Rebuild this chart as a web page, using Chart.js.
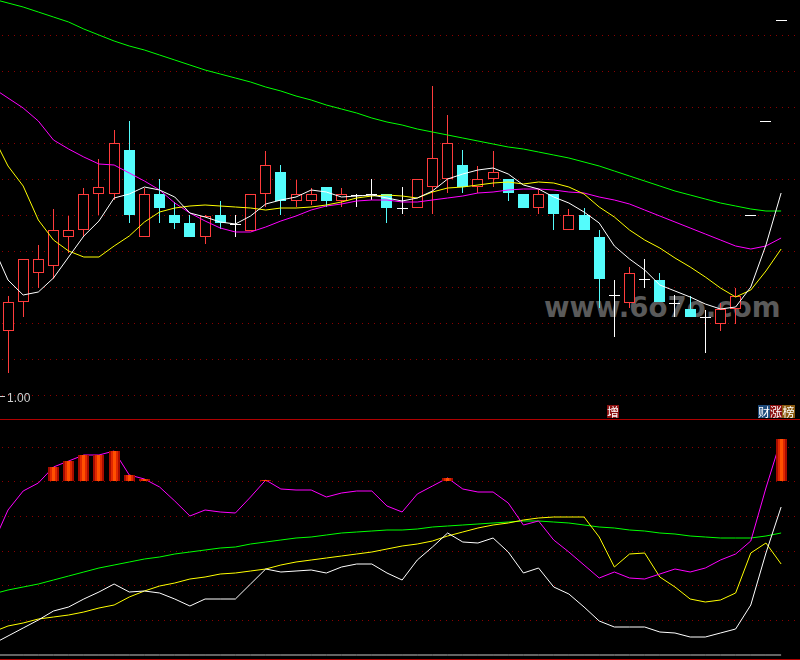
<!DOCTYPE html>
<html>
<head>
<meta charset="utf-8">
<script src="https://cdn.jsdelivr.net/npm/chart.js@4.4.0/dist/chart.umd.min.js"></script>
<style>
  html, body { margin: 0; padding: 0; background: #000; }
  body { width: 800px; height: 660px; position: relative; overflow: hidden; }
  #mark { position: absolute; left: 544px; top: 294px; color: #5a5a5a; font: bold 28px "DejaVu Sans"; line-height: 28px; white-space: nowrap; transform-origin: 0 0; }
  #priceChart { position: absolute; left: 0; top: 0; }
  #indChart { position: absolute; left: 0; top: 420px; }
  .sep { position: absolute; left: 0; width: 800px; height: 1px; background: #b00000; }
  .tag { position: absolute; top: 405px; width: 12px; height: 13px; line-height: 13px; color: #fff; font-size: 12px; font-family: "Noto Sans CJK SC"; text-align: center; }
</style>
</head>
<body>
<div id="mark">www.6o7o.com</div>
<canvas id="priceChart" width="800" height="419"></canvas>
<div class="sep" style="top:419px"></div>
<canvas id="indChart" width="800" height="240"></canvas>
<div class="sep" style="top:659px"></div>
<div class="tag" style="left:607px;background:#8b1010">增</div>
<div class="tag" style="left:758px;background:#1e4a7a">财</div>
<div class="tag" style="left:770px;background:#8b1010">涨</div>
<div class="tag" style="left:782px;width:13px;background:#8b5a10">榜</div>
<script>
// daily candles, index 0..51 (last three are one-price limit-up days)
const open = [1.64,1.93,2.22,2.29,2.58,2.65,3.01,3.01,3.45,2.58, 3.01,2.80,2.72,2.58,2.80,2.71,2.64,3.01,3.23,2.94,
              2.94,3.08,2.94,3.00,3.01,3.01,2.87,2.87,3.08,3.16, 3.30,3.08,3.16,3.16,3.01,2.87,3.01,2.65,2.80,2.58,
              2.00,1.92,2.16,2.15,1.92,1.86,1.78,1.71,1.86,2.80, 3.74,4.75];
const high = [1.99,2.36,2.50,2.86,2.79,3.07,3.36,3.65,3.74,3.07, 3.16,2.93,2.80,2.80,2.94,2.80,3.01,3.44,3.30,3.15,
              3.07,3.08,3.07,3.01,3.16,3.01,3.08,3.16,4.09,3.80, 3.45,3.29,3.44,3.16,3.01,3.06,3.01,2.86,2.87,2.65,
              2.15,2.28,2.36,2.22,2.00,1.99,1.85,1.92,2.07,2.80, 3.74,4.75];
const low = [1.22,1.78,2.07,2.16,2.42,2.58,2.80,2.95,2.72,2.58, 2.72,2.66,2.58,2.51,2.66,2.58,2.64,2.88,2.80,2.88,
             2.90,2.88,2.88,2.88,2.95,2.72,2.81,2.87,2.81,3.02, 3.02,3.02,3.08,2.94,2.87,2.81,2.65,2.65,2.65,1.87,
             1.58,1.87,2.07,1.93,1.78,1.78,1.42,1.64,1.71,2.80, 3.74,4.75];
const close = [1.93,2.36,2.36,2.65,2.65,3.01,3.08,3.52,2.80,3.01, 2.87,2.72,2.58,2.79,2.72,2.71,3.01,3.30,2.94,3.01,
               3.01,2.94,3.01,3.00,3.01,2.87,2.87,3.16,3.37,3.52, 3.08,3.16,3.23,3.02,2.87,3.01,2.81,2.80,2.65,2.16,
               2.00,2.22,2.16,1.93,1.92,1.78,1.78,1.86,1.99,2.80, 3.74,4.75];

// moving averages, index -1..51 (first value is the day before the window)
const ma5 = [2.49, 2.15,2.00,2.03,2.17,2.38,2.59,2.74,2.97,3.01,3.08, 3.05,2.98,2.82,2.78,2.73,2.71,2.79,2.91,2.95,2.98,
             3.05,3.03,2.98,2.99,3.00,2.97,2.94,2.97,3.04,3.16, 3.21,3.25,3.27,3.21,3.10,3.06,2.98,2.92,2.83,2.72,
             2.49,2.36,2.25,2.10,2.04,1.98,1.91,1.86,1.88,2.08, 2.50,3.02];
const ma10 = [3.59, 3.29,3.09,2.75,2.55,2.44,2.38,2.38,2.49,2.59,2.73, 2.83,2.87,2.89,2.90,2.89,2.88,2.87,2.85,2.87,2.87,
              2.88,2.90,2.93,2.97,2.99,3.00,2.99,2.97,3.03,3.07, 3.08,3.10,3.12,3.13,3.11,3.13,3.12,3.08,3.01,2.88,
              2.78,2.65,2.55,2.47,2.37,2.28,2.18,2.07,1.98,2.05, 2.24,2.46];
const ma20 = [4.07, 3.97,3.87,3.74,3.55,3.46,3.38,3.31,3.30,3.22,3.14, 3.05,2.92,2.82,2.74,2.67,2.63,2.63,2.68,2.74,2.79,
              2.85,2.89,2.91,2.94,2.95,2.95,2.93,2.93,2.95,2.97, 2.99,3.02,3.03,3.05,3.06,3.06,3.05,3.03,3.02,2.98,
              2.95,2.91,2.85,2.79,2.73,2.67,2.61,2.55,2.49,2.46, 2.49,2.57];
const ma60 = [4.96, 4.92,4.88,4.83,4.78,4.73,4.66,4.60,4.54,4.49,4.45, 4.40,4.35,4.30,4.25,4.21,4.17,4.13,4.08,4.04,3.99,
              3.95,3.90,3.86,3.82,3.77,3.73,3.70,3.66,3.63,3.60, 3.57,3.54,3.51,3.48,3.46,3.43,3.40,3.37,3.33,3.29,
              3.24,3.19,3.14,3.09,3.04,3.00,2.96,2.92,2.89,2.86, 2.84,2.84];

// indicator panel, index -1..51
const strength = [116, 150,169,177,193,199,205,205,209,185,181, 173,159,144,150,148,147,163,180,171,170,
                  170,163,167,169,169,154,148,166,174,182, 171,168,168,157,135,139,120,108,95,82,
                  88,82,81,86,91,88,92,100,106,119, 172,221];
const fast = [16, 24,32,40,49,53,61,68,76,68,69, 67,61,54,61,61,61,76,91,88,89,
              90,87,93,96,96,87,80,100,113,127, 118,117,122,108,87,92,73,66,53,39,
              33,33,33,28,27,23,23,27,31,55, 107,153];
const slow = [28, 34,37,41,43,45,48,52,55,63,69, 74,77,81,83,86,87,89,91,95,98,
              100,102,104,106,108,111,114,116,119,124, 128,132,135,137,140,142,143,143,143,123,
              93,106,107,83,73,61,58,60,67,107, 117,96];
const trend = [66, 70,73,76,80,84,88,92,95,98,101, 103,106,108,110,112,113,116,118,120,122,
               123,125,127,128,129,130,130,131,133,134, 135,136,137,138,139,139,138,137,135,133,
               132,130,129,127,126,124,123,122,122,122, 124,127];
const baseLevel = 5;
const barFloor = 179;

const priceGrid = [1.00, 1.36, 1.72, 2.08, 2.44, 2.80, 3.16, 3.52, 3.88, 4.24, 4.60];
const indGrid = [40, 75, 109, 144, 179, 213];
const labelValue = 1.00;

const xMin = -0.528, xMax = 52.246;
const days = open.map((_, i) => i);
const lineDays = [-1, ...days];
const pts = arr => arr.map((v, i) => ({x: lineDays[i], y: v}));

const kind = days.map(i => close[i] > open[i] ? 'up' : close[i] < open[i] ? 'down' : 'flat');
const edge = {up: '#ff3c3c', down: '#54fcfc', flat: '#ffffff'};
const fill = {up: '#000000', down: '#54fcfc', flat: '#ffffff'};

const bodies = days.map(i => {
    const lo = Math.min(open[i], close[i]);
    const hi = Math.max(open[i], close[i]);
    return {x: i, y: hi > lo ? [lo, hi] : [lo - 0.01, hi]};
});
const wicks = days.map(i => ({x: i, y: [low[i], high[i]]}));

function lineSet(values, color, order) {
    return {type: 'line', data: pts(values), borderColor: color, borderWidth: 1,
            pointRadius: 0, tension: 0, fill: false, order: order};
}

function gridScale(min, max, values) {
    return {
        min: min, max: max,
        afterBuildTicks: s => { s.ticks = values.map(v => ({value: v})); },
        ticks: {display: false},
        grid: {display: false, drawTicks: false},
        border: {display: false}
    };
}

const baseOptions = (yScale) => ({
    responsive: false,
    animation: false,
    events: [],
    layout: {padding: 0},
    plugins: {legend: {display: false}, tooltip: {enabled: false}},
    scales: {
        x: {type: 'linear', display: false, min: xMin, max: xMax, offset: false},
        y: yScale
    }
});

// dotted dark-red grid lines at the y scale's ticks
const dottedGrid = {
    id: 'dottedGrid',
    beforeDatasetsDraw(chart) {
        const {ctx, chartArea, scales} = chart;
        ctx.save();
        ctx.fillStyle = '#8c0000';
        scales.y.ticks.forEach(t => {
            const y = Math.round(scales.y.getPixelForValue(t.value));
            for (let x = chartArea.left + 2; x < chartArea.right; x += 6) ctx.fillRect(x, y, 1, 1);
        });
        ctx.restore();
    }
};

// snap bar centres to whole pixels so thin wicks stay crisp
const snapBars = {
    id: 'snapBars',
    afterDatasetsUpdate(chart) {
        chart.data.datasets.forEach((ds, i) => {
            const meta = chart.getDatasetMeta(i);
            if (meta.type !== 'bar') return;
            const odd = (ds.barThickness % 2) === 1;
            meta.data.forEach(el => { el.x = odd ? Math.floor(el.x) + 0.5 : Math.round(el.x); });
        });
    }
};

const priceLabel = {
    id: 'priceLabel',
    afterDraw(chart) {
        const y = chart.scales.y.getPixelForValue(labelValue);
        const ctx = chart.ctx;
        ctx.save();
        ctx.fillStyle = '#d0d0d0';
        ctx.fillRect(0, Math.round(y) + 1, 5, 1);
        ctx.font = '12px "Liberation Sans"';
        ctx.textBaseline = 'alphabetic';
        ctx.fillText(labelValue.toFixed(2), 7, y + 7);
        ctx.restore();
    }
};

new Chart(document.getElementById('priceChart'), {
    type: 'bar',
    data: {
        datasets: [
            lineSet(ma5, '#ffffff', 0),
            lineSet(ma10, '#ffff00', 0),
            lineSet(ma20, '#ff00ff', 0),
            lineSet(ma60, '#00ff00', 0),
            {
                data: bodies, order: 1, grouped: false, barThickness: 11, inflateAmount: 0,
                borderSkipped: false,
                backgroundColor: days.map(i => fill[kind[i]]),
                borderColor: days.map(i => edge[kind[i]]),
                borderWidth: days.map(i => kind[i] === 'flat' ? 0 : 1)
            },
            {
                data: wicks, order: 2, grouped: false, barThickness: 1, inflateAmount: 0,
                borderWidth: 0,
                backgroundColor: days.map(i => edge[kind[i]])
            }
        ]
    },
    options: baseOptions(gridScale(0.76, 4.95, priceGrid)),
    plugins: [dottedGrid, snapBars, priceLabel]
});

const strengthNow = strength.slice(1);
const barDays = days.filter(i => strengthNow[i] > barFloor);
const barData = barDays.map(i => ({x: i, y: [barFloor, strengthNow[i]]}));
const barLayer = (width, color, order) => ({
    data: barData, order: order, grouped: false, barThickness: width, inflateAmount: 0,
    borderWidth: 0, backgroundColor: color
});

new Chart(document.getElementById('indChart'), {
    type: 'bar',
    data: {
        datasets: [
            barLayer(3, '#ff5000', 0),
            barLayer(7, '#e02800', 1),
            barLayer(11, '#a80c00', 2),
            lineSet(strength, '#ff00ff', 3),
            lineSet(fast, '#ffffff', 3),
            lineSet(slow, '#ffff00', 3),
            lineSet(trend, '#00ff00', 3),
            lineSet(lineDays.map(() => baseLevel), '#c8c8c8', 3)
        ]
    },
    options: baseOptions(gridScale(0, 240, indGrid)),
    plugins: [dottedGrid, snapBars]
});

const mark = document.getElementById('mark');
mark.style.transform = 'scaleX(' + (237 / mark.offsetWidth) + ')';
</script>
</body>
</html>
